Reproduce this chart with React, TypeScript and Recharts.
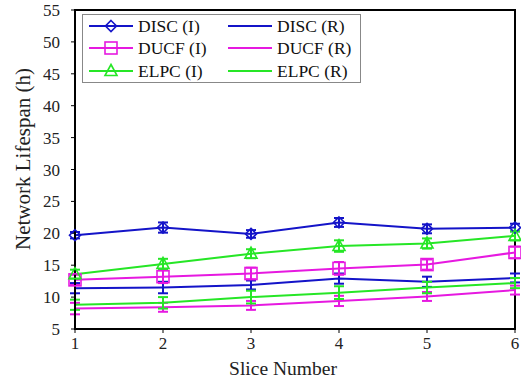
import React from "react";
import { ComposedChart, Line, XAxis, YAxis, ErrorBar, ReferenceArea } from "recharts";

const slices = [1, 2, 3, 4, 5, 6];
const yTicks = [5, 10, 15, 20, 25, 30, 35, 40, 45, 50, 55];

const discI = [19.7, 20.9, 19.9, 21.7, 20.7, 20.9];
const discIErr = [0.5, 0.8, 0.6, 0.7, 0.7, 0.6];
const ducfI = [12.7, 13.2, 13.7, 14.5, 15.1, 17.0];
const ducfIErr = [0.8, 1.0, 0.9, 1.0, 0.8, 0.9];
const elpcI = [13.6, 15.2, 16.8, 18.0, 18.4, 19.6];
const elpcIErr = [0.7, 0.8, 0.7, 0.9, 0.8, 0.7];
const discR = [11.4, 11.5, 11.9, 12.9, 12.4, 13.0];
const discRErr = [0.8, 0.9, 0.7, 0.8, 0.8, 0.7];
const ducfR = [8.2, 8.4, 8.7, 9.4, 10.1, 11.1];
const ducfRErr = [0.9, 0.7, 0.7, 0.8, 0.7, 0.7];
const elpcR = [8.8, 9.1, 10.0, 10.7, 11.5, 12.2];
const elpcRErr = [0.8, 0.9, 1.0, 1.0, 0.9, 0.8];

const BLUE = "#1414c8";
const MAGENTA = "#e619e0";
const GREEN = "#26e626";
const FONT = "'Liberation Serif', 'Times New Roman', serif";

const data = slices.map((s, i) => ({
  slice: s,
  discI: discI[i], discIErr: discIErr[i],
  ducfI: ducfI[i], ducfIErr: ducfIErr[i],
  elpcI: elpcI[i], elpcIErr: elpcIErr[i],
  discR: discR[i], discRErr: discRErr[i],
  ducfR: ducfR[i], ducfRErr: ducfRErr[i],
  elpcR: elpcR[i], elpcRErr: elpcRErr[i],
}));

type Shape = "diamond" | "square" | "triangle" | "none";

const series: { key: string; name: string; color: string; shape: Shape }[] = [
  { key: "discI", name: "DISC (I)", color: BLUE, shape: "diamond" },
  { key: "discR", name: "DISC (R)", color: BLUE, shape: "none" },
  { key: "ducfI", name: "DUCF (I)", color: MAGENTA, shape: "square" },
  { key: "ducfR", name: "DUCF (R)", color: MAGENTA, shape: "none" },
  { key: "elpcI", name: "ELPC (I)", color: GREEN, shape: "triangle" },
  { key: "elpcR", name: "ELPC (R)", color: GREEN, shape: "none" },
];

function Marker({ cx, cy, shape, color }: { cx: number; cy: number; shape: Shape; color: string }) {
  if (shape === "diamond") {
    return (
      <polygon
        points={`${cx},${cy - 5.5} ${cx + 5.5},${cy} ${cx},${cy + 5.5} ${cx - 5.5},${cy}`}
        fill="none"
        stroke={color}
        strokeWidth={1.6}
      />
    );
  }
  if (shape === "square") {
    return <rect x={cx - 6} y={cy - 6} width={12} height={12} fill="none" stroke={color} strokeWidth={1.6} />;
  }
  if (shape === "triangle") {
    return (
      <polygon
        points={`${cx},${cy - 6.5} ${cx + 6},${cy + 4.5} ${cx - 6},${cy + 4.5}`}
        fill="none"
        stroke={color}
        strokeWidth={1.6}
      />
    );
  }
  return null;
}

function Legend() {
  const cols = [7, 146];
  const rows = [12, 34, 57];
  return (
    <svg
      width={279}
      height={69}
      style={{ position: "absolute", left: 82, top: 14, background: "#fff" }}
    >
      <rect x={0.5} y={0.5} width={278} height={68} fill="#fff" stroke="#888" strokeWidth={1} />
      {series.map((s, i) => {
        const x0 = cols[i % 2];
        const y = rows[Math.floor(i / 2)];
        return (
          <g key={s.key}>
            <line x1={x0} y1={y} x2={x0 + 44} y2={y} stroke={s.color} strokeWidth={2} />
            <Marker cx={x0 + 22} cy={y} shape={s.shape} color={s.color} />
            <text x={x0 + 49} y={y + 6} fontFamily={FONT} fontSize={17.5} fill="#111">
              {s.name}
            </text>
          </g>
        );
      })}
    </svg>
  );
}

export default function App() {
  return (
    <div style={{ position: "absolute", left: 0, top: 0, width: 521, height: 381, background: "#fff" }}>
      <ComposedChart width={521} height={381} data={data} margin={{ top: 10, right: 6, left: 0, bottom: 0 }}>
        <XAxis
          dataKey="slice"
          type="number"
          domain={[1, 6]}
          ticks={slices}
          interval={0}
          height={52}
          tickSize={4}
          tickMargin={4}
          axisLine={{ stroke: "#000", strokeWidth: 2 }}
          tickLine={{ stroke: "#000" }}
          tick={{ fontFamily: FONT, fontSize: 17, fill: "#222" }}
          label={{
            content: () => (
              <text x={283} y={375} textAnchor="middle" fontFamily={FONT} fontSize={19.5} fill="#222">
                Slice Number
              </text>
            ),
          }}
        />
        <YAxis
          type="number"
          domain={[5, 55]}
          ticks={yTicks}
          interval={0}
          width={75}
          tickSize={4}
          tickMargin={11}
          axisLine={{ stroke: "#000", strokeWidth: 2 }}
          tickLine={{ stroke: "#000" }}
          tick={{ fontFamily: FONT, fontSize: 17, fill: "#222" }}
          label={{
            content: () => (
              <text
                x={30}
                y={159}
                transform="rotate(-90 30 159)"
                textAnchor="middle"
                fontFamily={FONT}
                fontSize={21}
                fill="#222"
              >
                Network Lifespan (h)
              </text>
            ),
          }}
        />
        <ReferenceArea x1={1} x2={6} y1={5} y2={55} fill="none" fillOpacity={0} stroke="#000" strokeWidth={2} ifOverflow="visible" />
        {series.map((s) => (
          <Line
            key={s.key}
            dataKey={s.key}
            name={s.name}
            stroke={s.color}
            strokeWidth={2}
            isAnimationActive={false}
            dot={
              s.shape === "none"
                ? false
                : (p: any) => <Marker key={`${s.key}-${p.index}`} cx={p.cx} cy={p.cy} shape={s.shape} color={s.color} />
            }
            activeDot={false}
          >
            <ErrorBar dataKey={`${s.key}Err`} width={5} stroke={s.color} strokeWidth={2} direction="y" isAnimationActive={false} />
          </Line>
        ))}
      </ComposedChart>
      <Legend />
    </div>
  );
}
